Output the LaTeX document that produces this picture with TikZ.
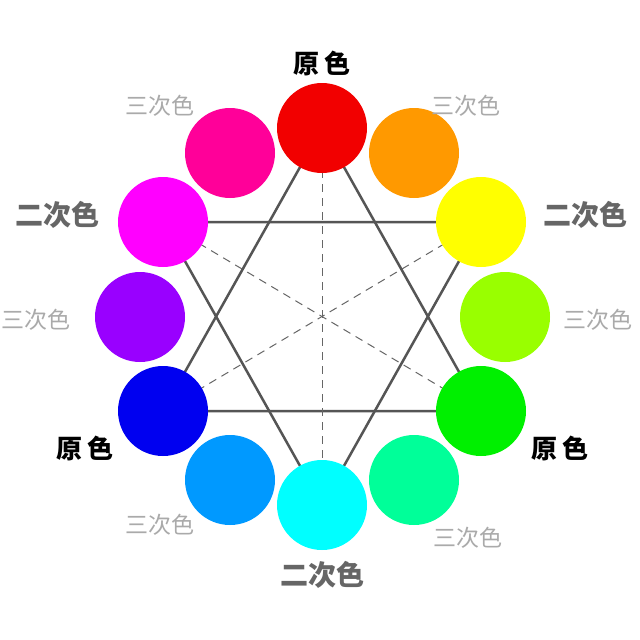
\documentclass[tikz,border=0pt]{standalone}
\usepackage{fontspec}
\newfontfamily\cjk{Noto Sans CJK SC}
\usetikzlibrary{backgrounds}
\definecolor{cred}{HTML}{F20000}
\definecolor{corange}{HTML}{FF9900}
\definecolor{cyellow}{HTML}{FFFF00}
\definecolor{cyelgreen}{HTML}{99FF00}
\definecolor{cgreen}{HTML}{00F000}
\definecolor{cspring}{HTML}{00FF99}
\definecolor{ccyan}{HTML}{00FFFF}
\definecolor{cazure}{HTML}{0099FF}
\definecolor{cblue}{HTML}{0000F0}
\definecolor{cviolet}{HTML}{9900FF}
\definecolor{cmagenta}{HTML}{FF00FF}
\definecolor{crose}{HTML}{FF0099}
\definecolor{linegray}{HTML}{555555}
\definecolor{dashgray}{HTML}{666666}
\definecolor{secgray}{HTML}{666666}
\definecolor{tertgray}{HTML}{AAAAAA}
\tikzset{
  dot/.style={circle, minimum size=90pt, inner sep=0pt, fill=#1},
  tri/.style={draw=linegray, line width=2.5pt},
  diag/.style={draw=dashgray, line width=1pt, dash pattern=on 8pt off 6pt},
  primary/.style={font=\cjk\bfseries\fontsize{26}{26}\selectfont, text=black},
  secondary/.style={font=\cjk\bfseries\fontsize{28}{28}\selectfont, text=secgray},
  tertiary/.style={font=\cjk\fontsize{23}{23}\selectfont, text=tertgray},
}
\begin{document}
\begin{tikzpicture}[x=1pt,y=-1pt]
\useasboundingbox (0,0) rectangle (640,640);
\node[dot=cred] (red) at (322,128) {};
\node[dot=corange] (orange) at (414,153) {};
\node[dot=cyellow] (yellow) at (481,222) {};
\node[dot=cyelgreen] (yelgreen) at (505,317) {};
\node[dot=cgreen] (green) at (481,411) {};
\node[dot=cspring] (spring) at (414,480) {};
\node[dot=ccyan] (cyan) at (322,505) {};
\node[dot=cazure] (azure) at (230,480) {};
\node[dot=cblue] (blue) at (163,411) {};
\node[dot=cviolet] (violet) at (140,317) {};
\node[dot=cmagenta] (magenta) at (163,222) {};
\node[dot=crose] (rose) at (230,153) {};
\begin{scope}[on background layer]
\fill[white] (0,0) rectangle (640,640);
\draw[tri] (red.center) -- (green.center) -- (blue.center) -- cycle;
\draw[tri] (magenta.center) -- (yellow.center) -- (cyan.center) -- cycle;
\draw[diag] (red.center) -- (cyan.center);
\draw[diag] (magenta.center) -- (green.center);
\draw[diag] (yellow.center) -- (blue.center);
\end{scope}
\node[primary] (ptop) at (322,63) {原 色};
\node[primary] (pleft) at (85,448) {原 色};
\node[primary] (pright) at (560,448) {原 色};
\node[secondary] (sleft) at (58,215) {二次色};
\node[secondary] (sright) at (585,215) {二次色};
\node[secondary] (sbottom) at (322,575) {二次色};
\node[tertiary] (ttl) at (160,106) {三次色};
\node[tertiary] (ttr) at (466,106) {三次色};
\node[tertiary] (tl) at (36,320) {三次色};
\node[tertiary] (tr) at (598,320) {三次色};
\node[tertiary] (tbl) at (160,525) {三次色};
\node[tertiary] (tbr) at (468,538) {三次色};
\end{tikzpicture}
\end{document}
